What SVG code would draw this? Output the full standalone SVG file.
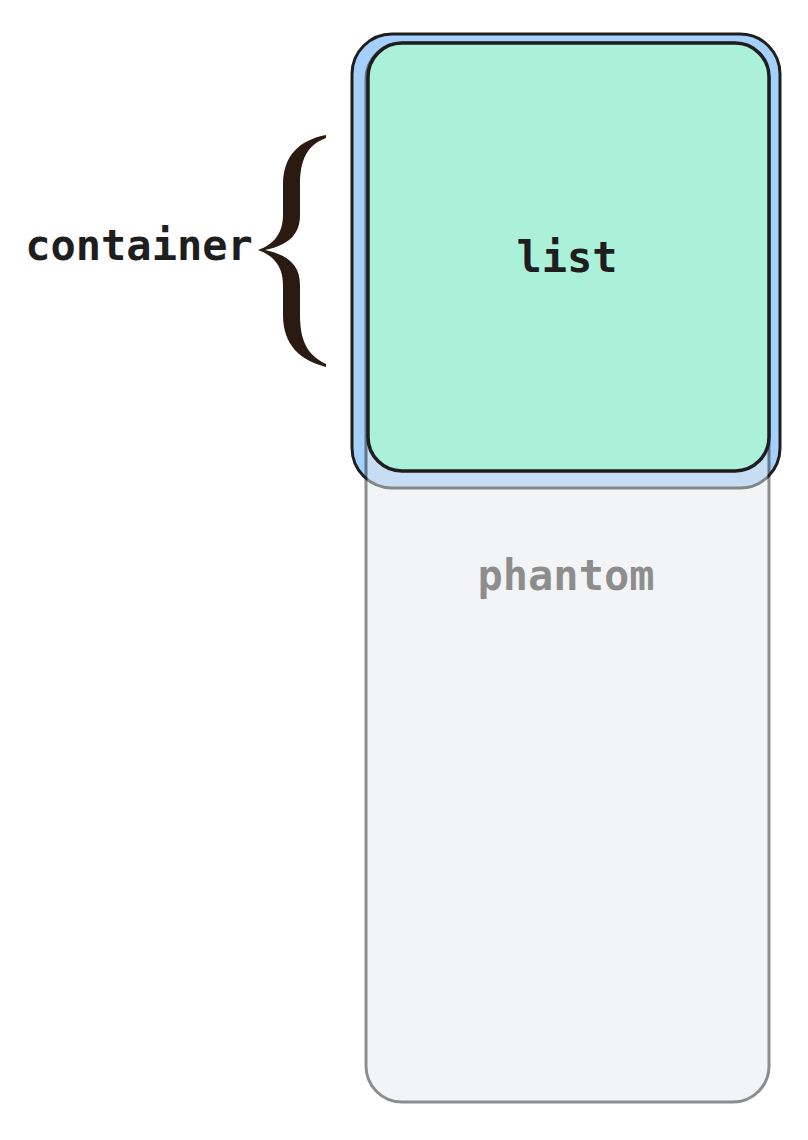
<svg xmlns="http://www.w3.org/2000/svg" width="808" height="1140" viewBox="0 0 808 1140">
<style>
.lbl{font-family:"DejaVu Sans Mono","Liberation Mono",monospace;font-weight:bold;font-size:42px;text-anchor:middle;dominant-baseline:central}
</style>
<rect width="808" height="1140" fill="#ffffff"/>
<g id="container">
<rect x="352" y="34" width="428" height="454" rx="40" fill="#a5d0fb" stroke="#1e1e1e" stroke-width="3"/>
</g>
<g id="phantom" opacity="0.5">
<rect x="366" y="43" width="403" height="1059" rx="36" fill="#e8ebee" stroke="#1e1e1e" stroke-width="3"/>
<text class="lbl" x="566" y="575" fill="#1e1e1e">phantom</text>
</g>
<g id="list">
<rect x="368" y="43" width="401" height="428" rx="34" fill="#abf1d9" stroke="#1e1e1e" stroke-width="3.5"/>
<text class="lbl" x="567" y="257" fill="#1e1e1e">list</text>
</g>
<g id="container-label">
<text class="lbl" x="139" y="245" fill="#1e1e1e">container</text>
<path d="M326,135 C300,140 283,155 283,185 L283,215 C283,235 272,245 258,250 C272,255 283,265 283,285 L283,315 C283,345 300,360 326,367 L326,364 C307,355 300,340 300,315 L300,285 C300,265 288,255 265,250 C288,245 300,235 300,215 L300,185 C300,160 307,145 326,138 Z" fill="#2a1a12"/>
</g>
<g id="connectors"/>
</svg>
